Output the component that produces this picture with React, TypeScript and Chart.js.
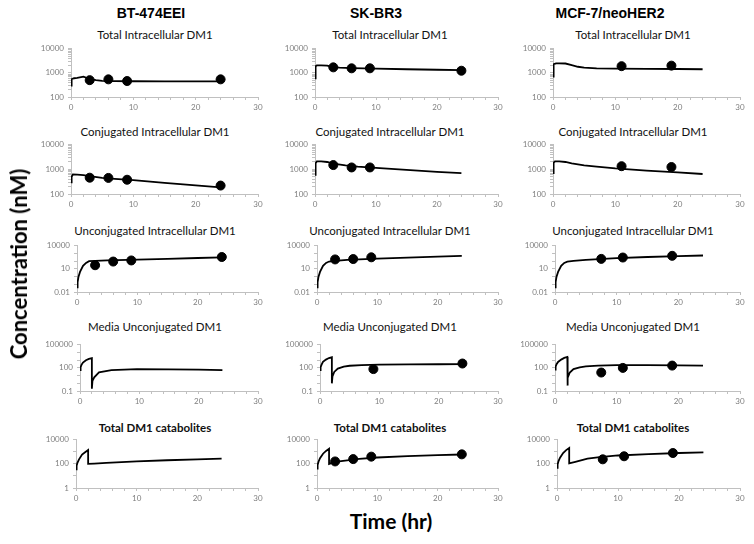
import React, { useEffect, useRef } from 'react';
import { Chart, registerables } from 'chart.js';
Chart.register(...registerables);

type Pt = [number, number];

// ---------- labels ----------
const CELL_LINES = ['BT-474EEI', 'SK-BR3', 'MCF-7/neoHER2'];
const PANEL_TITLES = [
  'Total Intracellular DM1',
  'Conjugated Intracellular DM1',
  'Unconjugated Intracellular DM1',
  'Media Unconjugated DM1',
  'Total DM1 catabolites',
];
const Y_AXIS_TITLE = 'Concentration (nM)';
const X_AXIS_TITLE = 'Time (hr)';
const X_TICK_LABELS = [0, 10, 20, 30];
const Y_TICK_LABELS: number[][] = [
  [100, 1000, 10000],
  [100, 1000, 10000],
  [0.01, 10, 10000],
  [0.1, 100, 100000],
  [1, 100, 10000],
];

// ---------- observation times ----------
const btTimes = [3, 6, 9, 24];
const skTimes = [3, 6, 9, 24];
const mcfTimes = [7.5, 11, 19];

// ---------- BT-474EEI ----------
const btTotalCurve: Pt[] = [[0, 300], [0.1, 550], [0.5, 600], [1, 620], [2, 700], [3, 560], [4, 500], [5, 470], [7, 455], [10, 450], [15, 448], [20, 447], [24, 447]];
const btTotalObs = [500, 540, 460, 540];
const btConjCurve: Pt[] = [[0, 300], [0.1, 500], [0.3, 620], [1, 610], [2, 590], [3, 530], [5, 450], [7, 410], [10, 365], [15, 285], [20, 225], [24, 185]];
const btConjObs = [460, 450, 380, 220];
const btUnconjCurve: Pt[] = [[0, 0.04], [0.1, 0.2], [0.25, 1], [0.5, 4], [1, 25], [1.5, 60], [2, 100], [3, 110], [5, 125], [10, 160], [15, 200], [20, 260], [24, 320]];
const btUnconjObs = [30, 90, 125, 350];
const btMediaCurve: Pt[] = [[0, 50], [0.1, 120], [0.25, 250], [0.5, 500], [1, 1000], [1.5, 1500], [2, 1900], [2, 0.2], [2.1, 2], [2.4, 6], [3.2, 26], [5.3, 50], [9.6, 69], [15, 65], [20, 58], [24, 52]];
const btMediaObs: (number | null)[] = [null, null, null, null];
const btCatCurve: Pt[] = [[0, 35], [0.1, 70], [0.25, 130], [0.5, 240], [1, 590], [1.5, 930], [2, 1400], [2, 100], [3, 105], [5, 120], [10, 160], [15, 200], [20, 240], [24, 270]];
const btCatObs: (number | null)[] = [null, null, null, null];

// ---------- SK-BR3 ----------
const skTotalCurve: Pt[] = [[0, 600], [0.1, 1900], [0.3, 2050], [1, 2050], [2, 2000], [2.5, 1850], [3, 1750], [4, 1650], [6, 1580], [10, 1500], [15, 1420], [20, 1350], [24, 1300]];
const skTotalObs = [1700, 1550, 1550, 1230];
const skConjCurve: Pt[] = [[0, 600], [0.1, 1800], [0.3, 2100], [1, 2100], [2, 2000], [3, 1700], [5, 1450], [7, 1300], [10, 1150], [15, 950], [20, 800], [24, 700]];
const skConjObs: (number | null)[] = [1500, 1200, 1200, null];
const skUnconjCurve: Pt[] = [[0, 0.04], [0.1, 0.2], [0.25, 1], [0.5, 4], [1, 25], [1.5, 60], [2, 90], [3, 110], [5, 145], [10, 220], [15, 300], [20, 400], [24, 500]];
const skUnconjObs: (number | null)[] = [170, 190, 320, null];
const skMediaCurve: Pt[] = [[0, 50], [0.1, 120], [0.25, 250], [0.5, 600], [1, 1200], [1.5, 1900], [2, 2400], [2, 1], [2.1, 8], [2.4, 30], [3, 80], [4, 150], [5, 190], [7, 230], [10, 260], [15, 290], [20, 300], [24, 310]];
const skMediaObs: (number | null)[] = [null, null, 70, 370];
const skCatCurve: Pt[] = [[0, 40], [0.1, 80], [0.25, 150], [0.5, 300], [1, 700], [1.5, 1200], [2, 1800], [2, 100], [3, 150], [5, 200], [7, 260], [10, 340], [15, 450], [20, 540], [24, 600]];
const skCatObs = [160, 250, 400, 620];

// ---------- MCF-7/neoHER2 ----------
const mcfTotalCurve: Pt[] = [[0, 700], [0.1, 2300], [0.5, 2500], [1, 2500], [2, 2450], [3, 2100], [4, 1800], [5, 1650], [7, 1550], [10, 1500], [15, 1480], [20, 1450], [24, 1420]];
const mcfTotalObs: (number | null)[] = [null, 1900, 2000];
const mcfConjCurve: Pt[] = [[0, 700], [0.1, 1900], [0.3, 2100], [1, 2100], [2, 2000], [3, 1750], [5, 1450], [7, 1300], [10, 1100], [15, 900], [20, 750], [24, 650]];
const mcfConjObs: (number | null)[] = [null, 1350, 1250];
const mcfUnconjCurve: Pt[] = [[0, 0.04], [0.1, 0.2], [0.25, 1], [0.5, 4], [1, 25], [1.5, 60], [2, 90], [3, 110], [5, 150], [10, 250], [15, 350], [20, 450], [24, 550]];
const mcfUnconjObs = [200, 300, 500];
const mcfMediaCurve: Pt[] = [[0, 60], [0.1, 150], [0.25, 300], [0.5, 600], [1, 1200], [1.5, 2000], [2, 2700], [2, 0.5], [2.1, 5], [2.4, 25], [3, 70], [4, 120], [5, 160], [7, 200], [10, 230], [15, 230], [20, 210], [24, 200]];
const mcfMediaObs = [25, 100, 200];
const mcfCatCurve: Pt[] = [[0, 46], [0.1, 90], [0.25, 170], [0.5, 330], [1, 800], [1.5, 1400], [2, 2100], [2, 110], [3, 150], [5, 270], [7, 370], [10, 500], [15, 660], [20, 800], [24, 900]];
const mcfCatObs = [240, 430, 800];

const CURVES: Pt[][][] = [
  [btTotalCurve, btConjCurve, btUnconjCurve, btMediaCurve, btCatCurve],
  [skTotalCurve, skConjCurve, skUnconjCurve, skMediaCurve, skCatCurve],
  [mcfTotalCurve, mcfConjCurve, mcfUnconjCurve, mcfMediaCurve, mcfCatCurve],
];
const OBS: (number | null)[][][] = [
  [btTotalObs, btConjObs, btUnconjObs, btMediaObs, btCatObs],
  [skTotalObs, skConjObs, skUnconjObs, skMediaObs, skCatObs],
  [mcfTotalObs, mcfConjObs, mcfUnconjObs, mcfMediaObs, mcfCatObs],
];
const OBS_TIMES = [btTimes, skTimes, mcfTimes];

// ---------- layout (pixels) ----------
const PLOT_LEFT = [[71, 71, 77, 80, 76], [315, 315, 317, 320, 317], [553, 553, 555, 555, 557]];
const PLOT_RIGHT = [258, 498, 740];
const PLOT_TOP = [46, 142, 243, 342, 437];
const PLOT_BOTTOM = [97, 194, 292, 391, 488];
const TITLE_CX = [155, 390, 633];
const TITLE_CY = [35, 132, 231, 327, 428];
const HEADER_CX = [151, 376, 610];
const YW = 40, PAD_T = 6, PAD_R = 12, XH = 16;
const TICK_COLOR = '#7f7f7f';
const AXIS_COLOR = '#c0c0c0';

function minorTicks(row: number): number[] {
  const [lo, , hi] = Y_TICK_LABELS[row];
  const out: number[] = [];
  const e0 = Math.round(Math.log10(lo));
  const e1 = Math.round(Math.log10(hi));
  if (row < 2) {
    for (let e = e0; e < e1; e++) for (let m = 1; m < 10; m++) out.push(m * Math.pow(10, e));
  } else {
    for (let e = e0; e < e1; e++) out.push(Math.pow(10, e));
  }
  out.push(hi);
  return out;
}

function fmt(v: number): string {
  if (v < 1) return String(Number(v.toPrecision(1)));
  return String(Math.round(v));
}

function Panel({ col, row }: { col: number; row: number }) {
  const ref = useRef<HTMLCanvasElement>(null);
  const L = PLOT_LEFT[col][row];
  const R = PLOT_RIGHT[col];
  const T = PLOT_TOP[row];
  const B = PLOT_BOTTOM[row];
  const w = R - L + YW + PAD_R;
  const h = B - T + PAD_T + XH;

  useEffect(() => {
    if (!ref.current) return;
    const labels = Y_TICK_LABELS[row];
    const yTicks = minorTicks(row);
    const isLabel = (v: number) => labels.some((l) => Math.abs(Math.log10(l) - Math.log10(v)) < 1e-6);
    const curve = CURVES[col][row].map(([x, y]) => ({ x, y }));
    const obs = OBS_TIMES[col]
      .map((t, i) => ({ x: t, y: OBS[col][row][i] }))
      .filter((p) => p.y !== null) as { x: number; y: number }[];
    const font = { family: 'Lato', size: 8 };
    const chart = new Chart(ref.current, {
      type: 'line',
      data: {
        datasets: [
          {
            data: curve,
            borderColor: '#000',
            borderWidth: 1.8,
            pointRadius: 0,
            tension: 0,
            fill: false,
          },
          {
            data: obs,
            showLine: false,
            pointRadius: 4.5,
            pointBackgroundColor: '#000',
            pointBorderColor: '#000',
            borderColor: '#000',
          },
        ],
      },
      options: {
        responsive: false,
        maintainAspectRatio: false,
        animation: false,
        events: [],
        layout: { padding: { top: PAD_T, right: PAD_R, left: 0, bottom: 0 } },
        plugins: { legend: { display: false }, title: { display: false }, tooltip: { enabled: false } },
        scales: {
          x: {
            type: 'linear',
            min: X_TICK_LABELS[0],
            max: X_TICK_LABELS[X_TICK_LABELS.length - 1],
            ticks: {
              stepSize: 2,
              autoSkip: false,
              maxRotation: 0,
              padding: 3,
              color: TICK_COLOR,
              font,
              callback: (v: any) => (X_TICK_LABELS.includes(Number(v)) ? String(v) : ''),
            },
            grid: { drawOnChartArea: false, drawTicks: true, tickLength: 3, color: AXIS_COLOR },
            border: { display: true, color: AXIS_COLOR },
            afterFit: (s: any) => {
              s.height = XH;
            },
          },
          y: {
            type: 'logarithmic',
            min: labels[0],
            max: labels[labels.length - 1],
            afterBuildTicks: (s: any) => {
              s.ticks = yTicks.map((v) => ({ value: v }));
            },
            ticks: {
              autoSkip: false,
              padding: 4,
              color: TICK_COLOR,
              font,
              callback: (v: any) => (isLabel(Number(v)) ? fmt(Number(v)) : ''),
            },
            grid: { drawOnChartArea: false, drawTicks: true, tickLength: 3, color: AXIS_COLOR },
            border: { display: true, color: AXIS_COLOR },
            afterFit: (s: any) => {
              s.width = YW;
            },
          },
        },
      },
    } as any);
    return () => chart.destroy();
  }, [col, row]);

  return (
    <canvas
      ref={ref}
      width={w}
      height={h}
      style={{ position: 'absolute', left: L - YW, top: T - PAD_T, width: w, height: h }}
    />
  );
}

const centered = (cx: number, cy: number): React.CSSProperties => ({
  position: 'absolute',
  left: cx,
  top: cy,
  transform: 'translate(-50%, -50%)',
  whiteSpace: 'nowrap',
  lineHeight: 1,
});

export default function App() {
  const panels: JSX.Element[] = [];
  const titles: JSX.Element[] = [];
  for (let c = 0; c < 3; c++) {
    for (let r = 0; r < 5; r++) {
      panels.push(<Panel key={`p${c}${r}`} col={c} row={r} />);
      titles.push(
        <div
          key={`t${c}${r}`}
          style={{
            ...centered(TITLE_CX[c], TITLE_CY[r]),
            fontFamily: 'Lato',
            fontSize: 11.5,
            fontWeight: r === 4 ? 700 : 400,
            color: '#111',
          }}
        >
          {PANEL_TITLES[r]}
        </div>
      );
    }
  }
  return (
    <div style={{ position: 'absolute', left: 0, top: 0, width: 754, height: 544, background: '#fff', overflow: 'hidden' }}>
      {CELL_LINES.map((name, c) => (
        <div
          key={name}
          style={{
            ...centered(HEADER_CX[c], 13),
            fontFamily: '"Liberation Sans", Arial, sans-serif',
            fontWeight: 700,
            fontSize: 14,
            color: '#000',
          }}
        >
          {name}
        </div>
      ))}
      {titles}
      {panels}
      <div
        style={{
          ...centered(19, 264),
          transform: 'translate(-50%, -50%) rotate(-90deg)',
          fontFamily: 'Lato',
          fontWeight: 700,
          fontSize: 22,
          color: '#000',
        }}
      >
        {Y_AXIS_TITLE}
      </div>
      <div
        style={{
          ...centered(391, 520),
          fontFamily: 'Lato',
          fontWeight: 700,
          fontSize: 21,
          color: '#000',
        }}
      >
        {X_AXIS_TITLE}
      </div>
    </div>
  );
}
